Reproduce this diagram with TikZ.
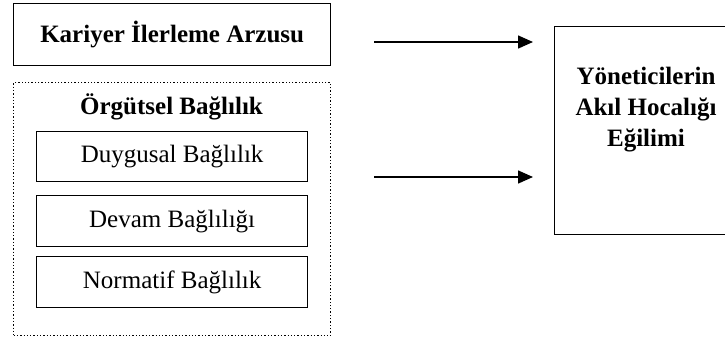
\documentclass[tikz,border=0pt]{standalone}
\usepackage{fontspec}
\setmainfont{Liberation Serif}
\usetikzlibrary{arrows.meta}
\begin{document}
\begin{tikzpicture}[x=1pt,y=-1pt,
  box/.style={draw,line width=1.3pt},
  dotbox/.style={draw,line width=1.3pt,dotted},
  lbl/.style={font=\fontsize{25}{30}\selectfont,inner sep=0pt},
  blbl/.style={font=\fontsize{25}{30}\selectfont\bfseries,inner sep=0pt},
  arr/.style={line width=1.5pt,-{Triangle[length=15pt,width=13pt]}}]
\useasboundingbox (0,0) rectangle (725,341);
\begin{scope}
\clip (0,0) rectangle (725,341);
\node[box,minimum width=317pt,minimum height=62pt,anchor=north west,inner sep=0pt] (kar) at (13,3) {};
\node[blbl] at (kar.center) {Kariyer İlerleme Arzusu};
\node[dotbox,minimum width=317pt,minimum height=253pt,anchor=north west,inner sep=0pt] (org) at (13,82) {};
\node[blbl] (orgt) at (171.5,107) {Örgütsel Bağlılık};
\node[box,minimum width=271pt,minimum height=50pt,anchor=north west,inner sep=0pt] (duy) at (36,131) {};
\node[lbl] at (duy.center) {Duygusal Bağlılık};
\node[box,minimum width=271pt,minimum height=51pt,anchor=north west,inner sep=0pt] (dev) at (36,195) {};
\node[lbl] at (dev.center) {Devam Bağlılığı};
\node[box,minimum width=271pt,minimum height=51pt,anchor=north west,inner sep=0pt] (nor) at (36,256) {};
\node[lbl] at (nor.center) {Normatif Bağlılık};
\node[box,minimum width=184pt,minimum height=208pt,anchor=north west,inner sep=0pt] (yon) at (554,26) {};
\node[blbl,align=center,font=\fontsize{25}{31}\selectfont\bfseries] (yont) at (646,110) {Yöneticilerin\\Akıl Hocalığı\\Eğilimi};
\coordinate (a1s) at (374,42);
\coordinate (a1e) at (533,42);
\coordinate (a2s) at (374,177);
\coordinate (a2e) at (533,177);
\draw[arr] (a1s) -- (a1e);
\draw[arr] (a2s) -- (a2e);
\end{scope}
\end{tikzpicture}
\end{document}
